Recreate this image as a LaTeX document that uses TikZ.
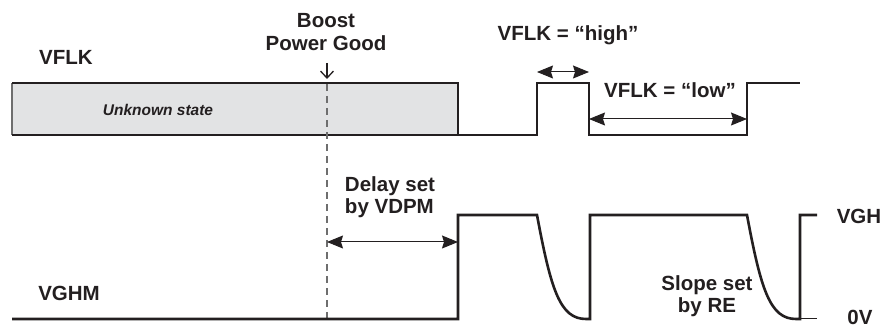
\documentclass[tikz,border=0pt]{standalone}
\usepackage{fontspec}
\setmainfont{Liberation Sans}
\usetikzlibrary{arrows.meta}
\definecolor{wave}{RGB}{35,31,32}
\definecolor{unknown}{RGB}{226,227,228}
\definecolor{edge}{RGB}{110,110,110}
\tikzset{
  sig/.style={line width=2.6pt, draw=wave, line join=miter},
  dimline/.style={line width=1pt, draw=wave, {Stealth[length=16pt,width=13pt,inset=2pt]}-{Stealth[length=16pt,width=13pt,inset=2pt]}},
  lbl/.style={font=\fontsize{20.5}{22.5}\selectfont\bfseries, text=wave, align=center, inner sep=0pt},
}
\begin{document}
\begin{tikzpicture}[x=1pt,y=-1pt]
     \useasboundingbox (0,0) rectangle (881,328);
     % VFLK
     \fill[unknown] (12,83) rectangle (458,135);
     \draw[edge, line width=1.5pt] (12,83) -- (12,135);
     \draw[sig] (12,83) -- (458,83) -- (458,135);
     \draw[sig] (12,135) -- (537,135) -- (537,83) -- (589,83) -- (589,135) -- (747,135) -- (747,83) -- (800,83);
     \node[lbl] (vflk) at (66,57) {VFLK};
     \node[lbl, font=\fontsize{15.5}{17}\selectfont\bfseries\itshape] (unk) at (158,110) {Unknown state};
     \node[lbl] (high) at (568,35) {VFLK = “high”};
     \node[lbl] (low) at (670,90) {VFLK = “low”};
     \coordinate (hi1) at (537,72);
     \coordinate (hi2) at (589,72);
     \coordinate (lo1) at (589,119);
     \coordinate (lo2) at (747,119);
     \draw[dimline] (hi1) -- (hi2);
     \draw[dimline] (lo1) -- (lo2);

     % power good
     \node[lbl] (boost) at (326,32) {Boost\\Power Good};
     \coordinate (pgtop) at (327,63);
     \coordinate (pgtip) at (327,79);
     \coordinate (pg) at (327,84);
     \coordinate (pgb) at (327,318);
     \draw[wave, line width=1.3pt, -{Straight Barb[length=7pt,width=13pt]}] (pgtop) -- (pgtip);
     \draw[edge, line width=1.3pt, dash pattern=on 7pt off 5pt] (pg) -- (pgb);

     % VGHM
     \draw[sig] (12,319) -- (458,319) -- (458,215) -- (537,215)
        .. controls (551,290) and (560,319) .. (586,319) -- (590,319) -- (590,215) -- (747,215)
        .. controls (761,290) and (770,319) .. (796,319) -- (800,319) -- (800,215) -- (817,215);
     \draw[wave, line width=1pt] (800,319) -- (817,319);
     \node[lbl] (vghm) at (69,293) {VGHM};
     \node[lbl, align=left] (delay) at (390,197) {Delay set\\by VDPM};
     \coordinate (dl1) at (327,242);
     \coordinate (dl2) at (458,242);
     \draw[dimline] (dl1) -- (dl2);
     \node[lbl] (slope) at (707,296) {Slope set\\by RE};
     \node[lbl] (vgh) at (859,216) {VGH};
     \node[lbl] (zero) at (860,317) {0V};

\end{tikzpicture}
\end{document}
